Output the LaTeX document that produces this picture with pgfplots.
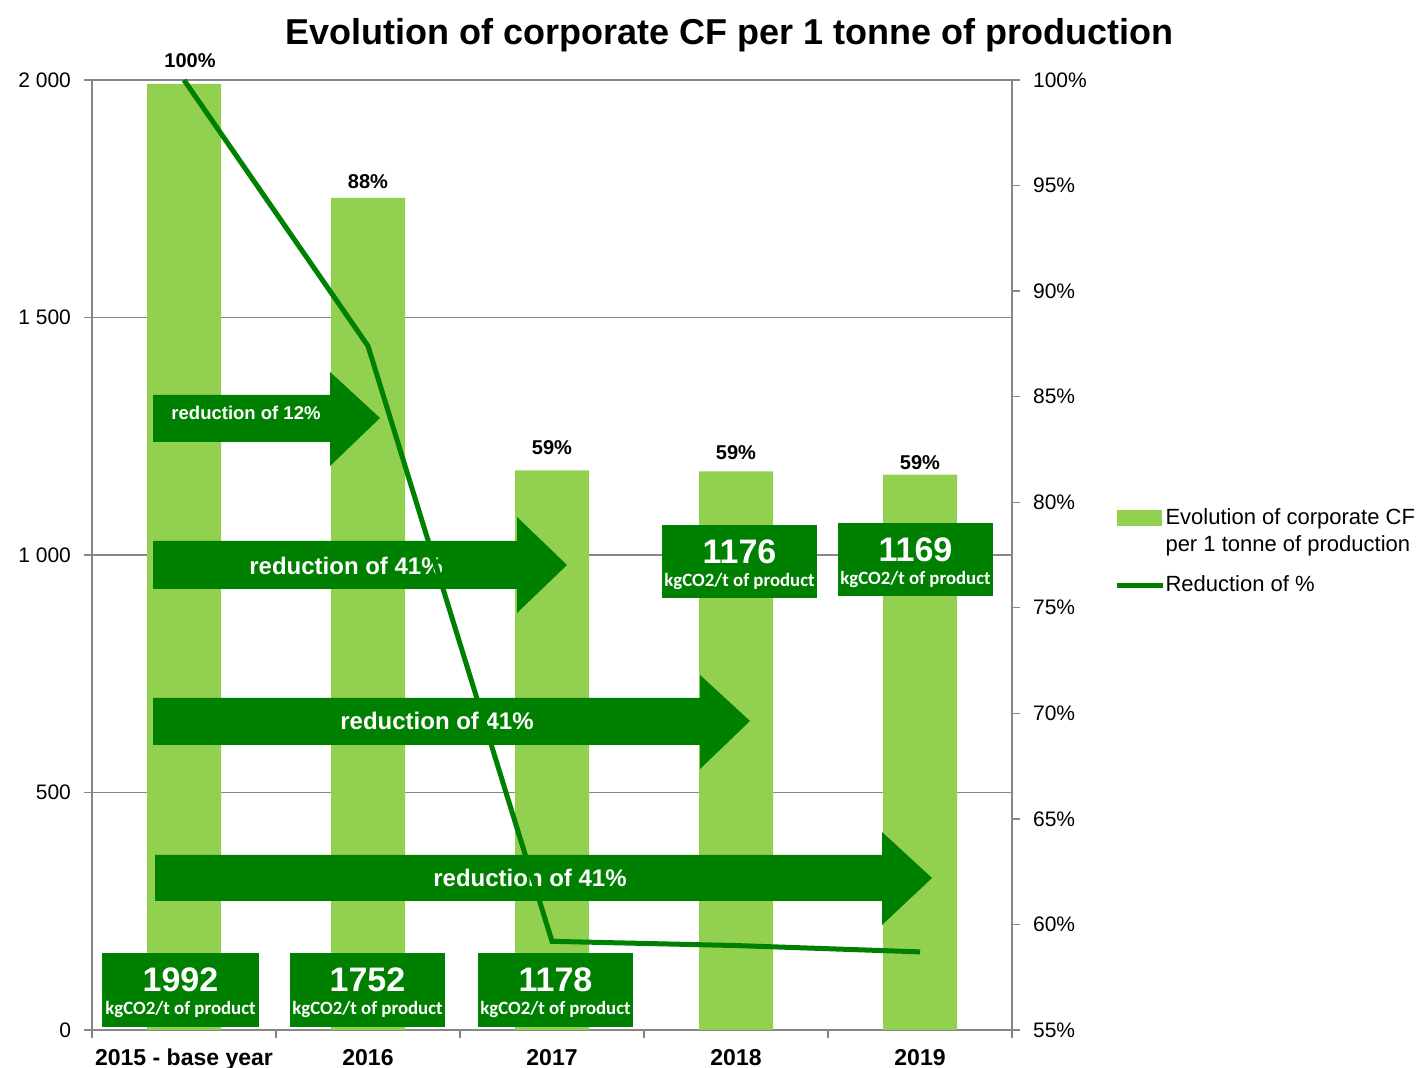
\documentclass[border=0pt]{standalone}
\usepackage{fontspec}
\setmainfont{Liberation Sans}
\newfontfamily\carlito{Carlito}
\usepackage{pgfplots}
\pgfplotsset{compat=1.18}
\definecolor{barg}{HTML}{92D050}
\definecolor{dg}{HTML}{008000}
\definecolor{axg}{HTML}{868686}
\newcommand{\fs}[2]{\fontsize{#1}{#2}\selectfont}
\begin{document}
\begin{tikzpicture}
\useasboundingbox (-46pt,-19pt) rectangle (667.5pt,515pt);
\begin{axis}[
  at={(0pt,0pt)}, anchor=south west,
  scale only axis, width=460pt, height=475pt,
  xmin=-0.5, xmax=4.5, ymin=0, ymax=2000,
  clip=false,
  axis x line*=bottom, axis y line*=left,
  axis line style={-, draw=axg, line width=0.7pt},
  tick align=outside,
  major tick length=4pt, minor tick length=4pt,
  tick style={draw=axg, line width=0.7pt},
  ytick={0,500,1000,1500,2000},
  yticklabels={0,500,1~000,1~500,2~000},
  yticklabel style={font=\fs{10.5}{12}, xshift=-3pt},
  ymajorgrids, grid style={draw=axg, line width=0.7pt},
  xtick={0,1,2,3,4},
  xticklabels={2015 - base year,2016,2017,2018,2019},
  major x tick style={draw=none},
  minor xtick={-0.5,0.5,1.5,2.5,3.5,4.5},
  xticklabel style={font=\bfseries\fs{11.5}{13}, yshift=-2pt},
  title={Evolution of corporate CF per 1 tonne of production},
  title style={at={(0.6924,1.025)}, anchor=base, font=\bfseries\fs{18}{22}},
]
\addplot[ybar, bar width=37pt, fill=barg, draw=none] coordinates {(0,1992) (1,1752) (2,1178) (3,1176) (4,1169)};
\addplot[draw=none, mark=none, nodes near coords, point meta=explicit symbolic,
  nodes near coords style={anchor=center, font=\bfseries\fs{10}{12}, text=black}]
  coordinates {(0.033,2040)[100\%] (1,1787)[88\%] (2,1225)[59\%] (3,1215)[59\%] (4,1194)[59\%]};
\end{axis}
\begin{scope}[x=0.5pt, y=-0.5pt, shift={(-46pt,515pt)}]
\fill[dg] (153,395)--(330,395)--(330,372)--(380,418)--(330,466)--(330,442)--(153,442)--cycle;
\fill[dg] (153,541)--(517,541)--(517,517)--(567,565)--(517,613)--(517,589)--(153,589)--cycle;
\fill[dg] (153,698)--(700,698)--(700,675)--(750,721)--(700,769)--(700,745)--(153,745)--cycle;
\fill[dg] (155,855)--(882,855)--(882,832)--(932,878)--(882,925)--(882,901)--(155,901)--cycle;
\node[text=white, font=\bfseries\fs{9.25}{11}] at (246,413) {reduction of 12\%};
\node[text=white, font=\bfseries\fs{12}{14}] at (346,566) {reduction of 41\%};
\node[text=white, font=\bfseries\fs{12}{14}] at (437,721) {reduction of 41\%};
\node[text=white, font=\bfseries\fs{12}{14}] at (530,878) {reduction of 41\%};
\fill[dg] (102,953) rectangle (259,1027);
\fill[dg] (290,953) rectangle (445,1027);
\fill[dg] (478,953) rectangle (633,1027);
\fill[dg] (662,525) rectangle (817,598);
\fill[dg] (838,523) rectangle (993,596);
\node[text=white, font=\bfseries\fs{17}{20}] at (180.5,980) {1992};
\node[text=white, font=\bfseries\fs{17}{20}] at (367.5,980) {1752};
\node[text=white, font=\bfseries\fs{17}{20}] at (555.5,980) {1178};
\node[text=white, font=\bfseries\fs{17}{20}] at (739.5,552) {1176};
\node[text=white, font=\bfseries\fs{17}{20}] at (915.5,550) {1169};
\node[text=white, font=\carlito\bfseries\fs{9.4}{11}] at (180.5,1010) {kgCO2/t of product};
\node[text=white, font=\carlito\bfseries\fs{9.4}{11}] at (367.5,1010) {kgCO2/t of product};
\node[text=white, font=\carlito\bfseries\fs{9.4}{11}] at (555.5,1010) {kgCO2/t of product};
\node[text=white, font=\carlito\bfseries\fs{9.4}{11}] at (739.5,582) {kgCO2/t of product};
\node[text=white, font=\carlito\bfseries\fs{9.4}{11}] at (915.5,580) {kgCO2/t of product};
\end{scope}
\begin{axis}[
  at={(0pt,0pt)}, anchor=south west,
  scale only axis, width=460pt, height=475pt,
  xmin=-0.5, xmax=4.5, ymin=55, ymax=100,
  clip=false,
  axis x line=none, axis y line*=right,
  axis line style={-, draw=axg, line width=0.7pt},
  tick align=outside, major tick length=4pt,
  tick style={draw=axg, line width=0.7pt},
  ytick={55,60,65,70,75,80,85,90,95,100},
  yticklabels={55\%,60\%,65\%,70\%,75\%,80\%,85\%,90\%,95\%,100\%},
  yticklabel style={font=\fs{10.5}{12}, xshift=3pt},
  legend style={at={(1.111,0.5558)}, anchor=north west, draw=none, fill=none,
    inner sep=0pt, nodes={inner xsep=0pt, inner ysep=3.3pt},
    font=\fs{11}{13.5}, row sep=10.75pt},
  legend cell align=left,
]
\addlegendimage{legend image code/.code={\fill[barg] (0pt,0pt) rectangle (22pt,7.5pt); \path[draw=none] (0pt,-10.5pt) -- (22pt,-10.5pt); \path[draw=none] (0pt,10.5pt) -- (22pt,10.5pt);}}
\addlegendentry{\parbox{130pt}{Evolution of corporate CF\newline per 1 tonne of production}}
\addplot[dg, line width=2.5pt, legend image code/.code={\draw[dg, line width=2.5pt] (0pt,0pt) -- (23pt,0pt);}]
  coordinates {(0,100) (1,87.4) (2,59.2) (3,59.0) (4,58.7)};
\addlegendentry{Reduction of \%}
\end{axis}
\end{tikzpicture}
\end{document}
